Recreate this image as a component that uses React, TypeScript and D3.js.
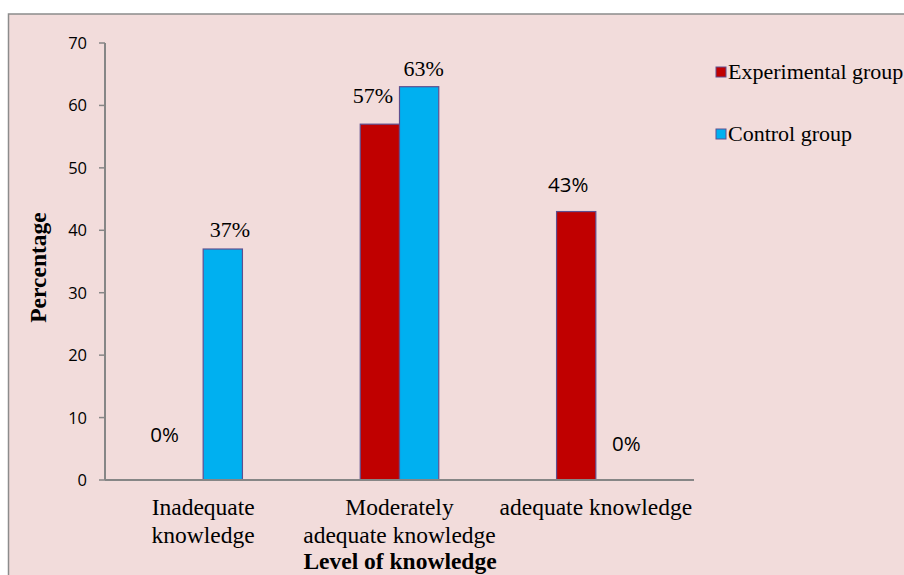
import { useMemo } from 'react'
import * as d3 from 'd3'

const WIDTH = 904
const HEIGHT = 575
const PLOT = { left: 105, right: 694, top: 43, bottom: 480 }

const CATEGORIES = ['Inadequate knowledge', 'Moderately adequate knowledge', 'adequate knowledge']
const CATEGORY_LINES = [['Inadequate', 'knowledge'], ['Moderately', 'adequate knowledge'], ['adequate knowledge']]
const SERIES = ['Experimental group', 'Control group']
const EXPERIMENTAL = [0, 57, 43]
const CONTROL = [37, 63, 0]
const Y_TICKS = [0, 10, 20, 30, 40, 50, 60, 70]

const COLORS = ['#c00000', '#00b0f0']
const BAR_STROKE = '#5f4f8f'
const SERIF = '"Liberation Serif", "Times New Roman", serif'
const SANS = '"Open Sans", "Liberation Sans", sans-serif'

// data label nudges (the labels were hand-placed in the original), [series][category]
const LABEL_STYLE = [
  [{ dx: -19, dy: -38, font: SANS }, { dx: -7, dy: -21, font: SERIF }, { dx: -8, dy: -20, font: SANS }],
  [{ dx: 7, dy: -12, font: SERIF }, { dx: 4.5, dy: -11, font: SERIF }, { dx: 11, dy: -29, font: SANS }]
]

export default function App() {
  const values = [EXPERIMENTAL, CONTROL]

  const x0 = useMemo(() => d3.scaleBand().domain(CATEGORIES).range([PLOT.left, PLOT.right]).padding(0), [])
  const x1 = useMemo(() => d3.scaleBand().domain(SERIES).range([0, x0.bandwidth()]).paddingInner(0).paddingOuter(1.5), [x0])
  const y = useMemo(() => d3.scaleLinear().domain([0, 70]).range([PLOT.bottom, PLOT.top]), [])

  const legendX = 728
  const legendY = [79, 141]

  return (
    <div style={{ position: 'absolute', left: 0, top: 0 }}>
      <svg width={WIDTH} height={HEIGHT} style={{ display: 'block' }}>
        <rect x={0} y={0} width={WIDTH} height={HEIGHT} fill="#ffffff" />
        <rect x={8.5} y={14} width={WIDTH + 20} height={HEIGHT} fill="#f2dcdb" stroke="#8c8c8c" strokeWidth={1.5} />

        {/* y axis */}
        <line x1={PLOT.left} x2={PLOT.left} y1={y(70)} y2={y(0)} stroke="#868686" strokeWidth={2} />
        {Y_TICKS.map(t => (
          <g key={t}>
            <line x1={PLOT.left - 6} x2={PLOT.left} y1={y(t)} y2={y(t)} stroke="#868686" strokeWidth={1.5} />
            <text x={87} y={y(t)} dy="0.36em" textAnchor="end" fontFamily={SANS} fontSize={16.5} fill="#000">{t}</text>
          </g>
        ))}

        {/* bars */}
        {values.map((vals, s) =>
          vals.map((v, c) => (
            <rect
              key={`${s}-${c}`}
              x={x0(CATEGORIES[c])! + x1(SERIES[s])!}
              y={y(v)}
              width={x1.bandwidth()}
              height={y(0) - y(v)}
              fill={COLORS[s]}
              stroke={v > 0 ? BAR_STROKE : 'none'}
              strokeWidth={1.2}
            />
          ))
        )}

        {/* x axis */}
        <line x1={PLOT.left} x2={PLOT.right} y1={y(0)} y2={y(0)} stroke="#868686" strokeWidth={2} />

        {/* data labels */}
        {values.map((vals, s) =>
          vals.map((v, c) => {
            const st = LABEL_STYLE[s][c]
            const cx = x0(CATEGORIES[c])! + x1(SERIES[s])! + x1.bandwidth() / 2
            return (
              <text
                key={`l-${s}-${c}`}
                x={cx + st.dx}
                y={y(v) + st.dy}
                textAnchor="middle"
                fontFamily={st.font}
                fontSize={st.font === SANS ? 20.5 : 22}
                fill="#000"
              >
                {v}%
              </text>
            )
          })
        )}

        {/* category labels */}
        {CATEGORIES.map((cat, i) => (
          <text key={cat} x={x0(cat)! + x0.bandwidth() / 2} y={515} textAnchor="middle" fontFamily={SERIF} fontSize={23.5} fill="#000">
            {CATEGORY_LINES[i].map((line, j) => (
              <tspan key={j} x={x0(cat)! + x0.bandwidth() / 2} dy={j === 0 ? 0 : 27.5}>{line}</tspan>
            ))}
          </text>
        ))}

        {/* axis titles */}
        <text x={400} y={569} textAnchor="middle" fontFamily={SERIF} fontWeight="bold" fontSize={23.5} fill="#000">Level of knowledge</text>
        <text transform={`translate(46, ${267.5}) rotate(-90)`} textAnchor="middle" fontFamily={SERIF} fontWeight="bold" fontSize={23.5} fill="#000">Percentage</text>

        {/* legend */}
        {SERIES.map((name, i) => (
          <g key={name}>
            <rect x={legendX - 12} y={legendY[i] - 12} width={10} height={10} fill={COLORS[i]} stroke={BAR_STROKE} strokeWidth={1} />
            <text x={legendX} y={legendY[i]} fontFamily={SERIF} fontSize={22} fill="#000">{name}</text>
          </g>
        ))}
      </svg>
    </div>
  )
}
